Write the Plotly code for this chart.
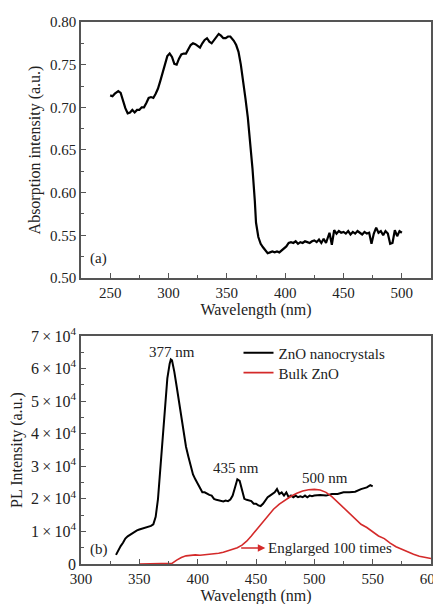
import plotly.graph_objects as go

# ---- Panel (a): absorption spectrum ----
abs_nm = [250, 252, 254, 257, 259, 261, 263, 265, 267, 269, 271, 273, 275, 277, 279, 281,
          283, 285, 287, 289, 291, 293, 295, 297, 299, 301, 303, 305, 307, 309, 311, 313,
          315, 317, 319, 321, 323, 325, 327, 329, 331, 333, 335, 337, 339, 341, 343, 345,
          347, 349, 351, 353, 355, 356, 358, 360, 362, 364, 366, 368, 370, 372, 374, 375,
          377, 379, 381, 383, 385, 387, 389, 391, 393, 395, 397, 399, 401, 403, 405, 407,
          409, 411, 413, 415, 417, 419, 421, 423, 425, 427, 429, 431, 433, 435, 437, 438,
          440, 442, 444, 446, 448, 450, 452, 454, 456, 458, 460, 462, 464, 466, 468, 470,
          472, 474, 476, 478, 480, 482, 484, 486, 488, 490, 492, 494, 496, 498, 500]
abs_val = [0.714, 0.713, 0.716, 0.719, 0.717, 0.708, 0.699, 0.693, 0.694, 0.697, 0.694, 0.697,
           0.697, 0.700, 0.700, 0.705, 0.711, 0.712, 0.711, 0.716, 0.722, 0.731, 0.741, 0.752,
           0.760, 0.763, 0.759, 0.751, 0.750, 0.757, 0.762, 0.763, 0.763, 0.768, 0.773, 0.775,
           0.774, 0.772, 0.770, 0.775, 0.779, 0.781, 0.777, 0.775, 0.779, 0.782, 0.786, 0.784,
           0.781, 0.781, 0.783, 0.783, 0.780, 0.778, 0.773, 0.765, 0.750, 0.732, 0.710, 0.688,
           0.660, 0.628, 0.590, 0.565, 0.548, 0.540, 0.536, 0.532, 0.529, 0.530, 0.531, 0.530,
           0.531, 0.530, 0.532, 0.535, 0.537, 0.541, 0.542, 0.541, 0.543, 0.540, 0.542, 0.541,
           0.543, 0.542, 0.541, 0.543, 0.544, 0.542, 0.545, 0.541, 0.546, 0.541, 0.549, 0.553,
           0.539, 0.556, 0.552, 0.555, 0.553, 0.554, 0.552, 0.555, 0.551, 0.554, 0.552, 0.555,
           0.553, 0.551, 0.554, 0.552, 0.553, 0.540, 0.552, 0.559, 0.553, 0.555, 0.550, 0.555,
           0.552, 0.540, 0.541, 0.556, 0.549, 0.555, 0.553]

# ---- Panel (b): PL spectra (values in units of 1e4) ----
nano_nm = [330, 332, 334, 336, 338, 340, 342, 344, 346, 348, 350, 352, 354, 356, 358, 360,
           362, 364, 366, 368, 370, 372, 374, 376, 377, 378, 379, 380, 382, 384, 386, 388,
           390, 392, 394, 396, 398, 400, 402, 404, 406, 408, 410, 412, 414, 416, 418, 420,
           422, 424, 426, 428, 430, 432, 434, 436, 438, 440, 442, 444, 446, 448, 450, 452,
           454, 456, 458, 460, 462, 464, 466, 468, 470, 472, 474, 476, 478, 480, 482, 484,
           486, 488, 490, 492, 494, 496, 498, 500, 505, 510, 515, 520, 525, 530, 535, 540,
           545, 548, 550]
nano_val = [0.28, 0.42, 0.55, 0.65, 0.78, 0.85, 0.90, 0.95, 1.00, 1.03, 1.06, 1.08, 1.10,
            1.12, 1.15, 1.17, 1.22, 1.45, 2.0, 2.9, 3.9, 4.9, 5.7, 6.15, 6.28, 6.25, 6.1, 5.9,
            5.45, 5.0, 4.5, 4.1, 3.6, 3.3, 3.0, 2.75, 2.6, 2.45, 2.35, 2.2, 2.2, 2.15, 2.12,
            2.1, 2.0, 1.97, 1.95, 1.95, 1.92, 1.95, 1.93, 1.98, 2.1, 2.35, 2.6, 2.55, 2.3, 2.0,
            1.97, 1.95, 1.93, 1.85, 1.85, 1.8, 1.78, 1.85, 1.95, 2.05, 2.1, 2.15, 2.2, 2.3,
            2.15, 2.2, 2.1, 2.2, 2.05, 2.1, 2.05, 2.1, 2.05, 2.08, 2.05, 2.1, 2.05, 2.1, 2.08,
            2.1, 2.12, 2.1, 2.15, 2.15, 2.2, 2.2, 2.22, 2.3, 2.35, 2.42, 2.38]
bulk_nm = [350, 360, 370, 375, 378, 382, 386, 390, 394, 398, 402, 406, 410, 414, 418, 422,
           426, 430, 434, 438, 442, 446, 450, 455, 460, 465, 470, 475, 480, 485, 490, 495,
           500, 505, 510, 515, 520, 525, 530, 535, 540, 545, 550, 555, 560, 565, 570, 575,
           580, 585, 590, 595, 600]
bulk_val = [0, 0, 0, 0, 0.02, 0.12, 0.2, 0.25, 0.27, 0.28, 0.27, 0.28, 0.3, 0.32, 0.33, 0.36,
            0.4, 0.44, 0.5, 0.58, 0.7, 0.86, 1.03, 1.25, 1.48, 1.68, 1.84, 1.96, 2.08, 2.17,
            2.24, 2.28, 2.29, 2.27, 2.2, 2.07, 1.9, 1.72, 1.55, 1.38, 1.22, 1.12, 0.98, 0.86,
            0.78, 0.64, 0.53, 0.45, 0.37, 0.3, 0.24, 0.2, 0.17]

pl_tickvals = [0, 1, 2, 3, 4, 5, 6, 7]
pl_ticktext = ["0"] + [f"{v}\u2009×\u200910<sup>4</sup>" for v in range(1, 8)]

FONT = "Liberation Serif"
FRAME = "#555555"
RED = "#d42a2a"

fig = go.Figure()
fig.add_trace(go.Scatter(x=abs_nm, y=abs_val, mode="lines", line=dict(color="black", width=2.2),
                         xaxis="x", yaxis="y", showlegend=False))
fig.add_trace(go.Scatter(x=nano_nm, y=[v * 1e4 for v in nano_val], mode="lines",
                         line=dict(color="black", width=2), name="ZnO nanocrystals",
                         xaxis="x2", yaxis="y2", legend="legend"))
fig.add_trace(go.Scatter(x=bulk_nm, y=[v * 1e4 for v in bulk_val], mode="lines",
                         line=dict(color=RED, width=1.6), name="Bulk ZnO",
                         xaxis="x2", yaxis="y2", legend="legend2"))

axis_common = dict(showline=True, linecolor=FRAME, linewidth=1.5, mirror=True,
                   ticks="inside", ticklen=5, tickcolor=FRAME, tickwidth=1,
                   showgrid=False, zeroline=False, automargin=False,
                   tickfont=dict(family=FONT, size=15, color="#222"))
title_font = dict(family=FONT, size=16, color="#222")
legend_common = dict(xanchor="left", yanchor="top", bgcolor="rgba(0,0,0,0)",
                     font=dict(family=FONT, size=15, color="#222"), itemwidth=30)

# page body has an 8px default margin, so the figure margins are offset by 8px
fig.update_layout(
    width=441, height=604,
    margin=dict(l=73, r=18, t=14, b=48),
    paper_bgcolor="white", plot_bgcolor="white",
    font=dict(family=FONT, size=15, color="#222"),
    xaxis=dict(domain=[0, 1], anchor="y", range=[225, 525], tickvals=[250, 300, 350, 400, 450, 500],
               minor=dict(tickvals=[275, 325, 375, 425, 475], ticks="inside", ticklen=3, tickcolor=FRAME),
               title=dict(text="Wavelength (nm)", font=title_font, standoff=4),
               **axis_common),
    yaxis=dict(domain=[0.5277, 1.0], anchor="x", range=[0.50, 0.80], dtick=0.05, tickformat=".2f",
               minor=dict(dtick=0.025, ticks="inside", ticklen=3, tickcolor=FRAME),
               title=dict(text="Absorption intensity (a.u.)", font=title_font, standoff=5),
               **axis_common),
    xaxis2=dict(domain=[0, 1], anchor="y2", range=[300, 600], dtick=50,
                minor=dict(dtick=25, ticks="inside", ticklen=3, tickcolor=FRAME),
                title=dict(text="Wavelength (nm)", font=title_font, standoff=3),
                **axis_common),
    yaxis2=dict(domain=[0, 0.4207], anchor="x2", range=[0, 7e4],
                tickvals=[v * 1e4 for v in pl_tickvals], ticktext=pl_ticktext,
                minor=dict(tickvals=[v * 1e4 + 5000 for v in range(7)], ticks="inside", ticklen=3, tickcolor=FRAME),
                title=dict(text="PL Intensity (a.u.)", font=title_font, standoff=4),
                **{**axis_common, "tickfont": dict(family=FONT, size=16, color="#222")}),
    legend=dict(x=0.45, y=0.4197, **legend_common),
    legend2=dict(x=0.45, y=0.383, **legend_common),
)

ann_font = dict(family=FONT, size=15, color="#222")
fig.add_annotation(x=239.7, y=0.5234, xref="x", yref="y", text="(a)", showarrow=False, font=ann_font)
fig.add_annotation(x=315, y=4600, xref="x2", yref="y2", text="(b)", showarrow=False, font=ann_font)
fig.add_annotation(x=377.7, y=65200, xref="x2", yref="y2", text="377 nm", showarrow=False, font=ann_font)
fig.add_annotation(x=433, y=29500, xref="x2", yref="y2", text="435 nm", showarrow=False, font=ann_font)
fig.add_annotation(x=509, y=26500, xref="x2", yref="y2", text="500 nm", showarrow=False, font=ann_font)
fig.add_annotation(x=458, y=4900, xref="x2", yref="y2", ax=436, ay=4900, axref="x2", ayref="y2",
                   text="", showarrow=True, arrowhead=2, arrowsize=1, arrowwidth=1.5, arrowcolor=RED)
fig.add_annotation(x=458.6, y=4900, xref="x2", yref="y2", text="Englarged 100 times",
                   showarrow=False, xanchor="left", font=ann_font)

fig.write_html("out.html")
